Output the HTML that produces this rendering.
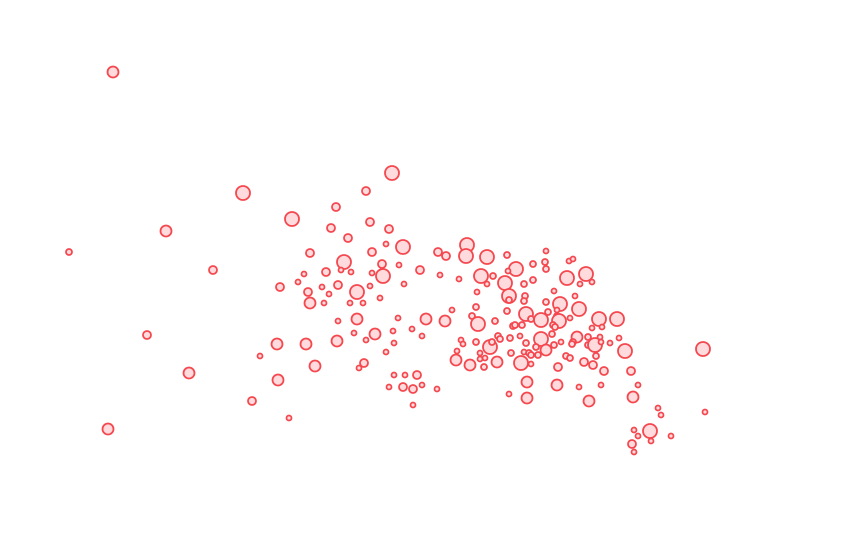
<!DOCTYPE html>
<html><head><meta charset="utf-8"><style>
html,body{margin:0;padding:0;background:#fff;}
svg{display:block;}
circle{fill:#ffdbdd;stroke:#f4484f;stroke-width:1.8;}
</style></head><body>
<svg width="855" height="550" viewBox="0 0 855 550" xmlns="http://www.w3.org/2000/svg">
<g>
<circle cx="113" cy="72" r="5.5"/><circle cx="69" cy="252" r="3"/><circle cx="166" cy="231" r="5.5"/><circle cx="213" cy="270" r="4"/><circle cx="147" cy="335" r="4"/><circle cx="189" cy="373" r="5.5"/><circle cx="108" cy="429" r="5.5"/>
<circle cx="392" cy="173" r="7"/><circle cx="366" cy="191" r="4"/><circle cx="243" cy="193" r="7"/><circle cx="336" cy="207" r="4"/><circle cx="292" cy="219" r="7"/><circle cx="370" cy="222" r="4"/><circle cx="331" cy="228" r="4"/><circle cx="389" cy="229" r="4"/><circle cx="348" cy="238" r="4"/><circle cx="386" cy="244" r="2.5"/><circle cx="403" cy="247" r="7"/><circle cx="310" cy="253" r="4"/><circle cx="372" cy="252" r="4"/><circle cx="438" cy="252" r="4"/><circle cx="446" cy="256" r="4"/><circle cx="467" cy="245" r="7"/><circle cx="466" cy="256" r="7"/><circle cx="344" cy="262" r="7"/><circle cx="382" cy="264" r="4"/><circle cx="383" cy="276" r="7"/><circle cx="399" cy="265" r="2.5"/><circle cx="420" cy="270" r="4"/><circle cx="326" cy="272" r="4"/><circle cx="341" cy="270" r="2.5"/><circle cx="351" cy="272" r="2.5"/><circle cx="372" cy="273" r="2.5"/><circle cx="304" cy="274" r="2.5"/><circle cx="440" cy="275" r="2.5"/><circle cx="459" cy="279" r="2.5"/><circle cx="298" cy="282" r="2.5"/><circle cx="280" cy="287" r="4"/><circle cx="322" cy="287" r="2.5"/><circle cx="338" cy="285" r="4"/><circle cx="357" cy="292" r="7"/><circle cx="370" cy="286" r="2.5"/><circle cx="404" cy="284" r="2.5"/><circle cx="308" cy="292" r="4"/><circle cx="329" cy="294" r="2.5"/><circle cx="310" cy="303" r="5.5"/><circle cx="324" cy="303" r="2.5"/><circle cx="350" cy="303" r="2.5"/><circle cx="363" cy="303" r="2.5"/><circle cx="380" cy="298" r="2.5"/><circle cx="452" cy="310" r="2.5"/><circle cx="357" cy="319" r="5.5"/><circle cx="398" cy="318" r="2.5"/><circle cx="426" cy="319" r="5.5"/><circle cx="445" cy="321" r="5.5"/><circle cx="338" cy="321" r="2.5"/><circle cx="354" cy="333" r="2.5"/><circle cx="375" cy="334" r="5.5"/><circle cx="393" cy="331" r="2.5"/><circle cx="412" cy="329" r="2.5"/><circle cx="422" cy="336" r="2.5"/><circle cx="366" cy="340" r="2.5"/><circle cx="394" cy="343" r="2.5"/><circle cx="277" cy="344" r="5.5"/><circle cx="306" cy="344" r="5.5"/><circle cx="337" cy="341" r="5.5"/><circle cx="260" cy="356" r="2.5"/><circle cx="386" cy="352" r="2.5"/><circle cx="364" cy="363" r="4"/><circle cx="359" cy="368" r="2.5"/><circle cx="315" cy="366" r="5.5"/><circle cx="278" cy="380" r="5.5"/><circle cx="394" cy="375" r="2.5"/><circle cx="405" cy="375" r="2.5"/><circle cx="417" cy="375" r="4"/><circle cx="389" cy="387" r="2.5"/><circle cx="403" cy="387" r="4"/><circle cx="413" cy="389" r="4"/><circle cx="422" cy="385" r="2.5"/><circle cx="437" cy="389" r="2.5"/><circle cx="413" cy="405" r="2.5"/><circle cx="252" cy="401" r="4"/><circle cx="289" cy="418" r="2.5"/>
<circle cx="487" cy="257" r="7"/><circle cx="507" cy="255" r="3"/><circle cx="546" cy="251" r="2.5"/><circle cx="516" cy="269" r="7"/><circle cx="533" cy="264" r="3"/><circle cx="545" cy="262" r="3"/><circle cx="546" cy="269" r="3"/><circle cx="569" cy="261" r="2.5"/><circle cx="573" cy="259" r="2.5"/><circle cx="567" cy="278" r="7"/><circle cx="586" cy="274" r="7"/><circle cx="580" cy="284" r="2.5"/><circle cx="592" cy="282" r="2.5"/><circle cx="481" cy="276" r="7"/><circle cx="493" cy="276" r="3"/><circle cx="487" cy="284" r="2.5"/><circle cx="508" cy="271" r="2.5"/><circle cx="505" cy="283" r="7"/><circle cx="524" cy="284" r="3"/><circle cx="533" cy="280" r="3"/><circle cx="477" cy="292" r="2.5"/><circle cx="509" cy="296" r="7"/><circle cx="509" cy="300" r="3"/><circle cx="525" cy="296" r="3"/><circle cx="524" cy="301" r="3"/><circle cx="554" cy="291" r="2.5"/><circle cx="575" cy="296" r="2.5"/><circle cx="546" cy="302" r="3"/><circle cx="560" cy="304" r="7"/><circle cx="579" cy="309" r="7"/><circle cx="476" cy="307" r="3"/><circle cx="507" cy="311" r="3"/><circle cx="526" cy="314" r="7"/><circle cx="548" cy="312" r="3"/><circle cx="557" cy="310" r="2.5"/><circle cx="472" cy="316" r="3"/><circle cx="478" cy="324" r="7"/><circle cx="495" cy="321" r="3"/><circle cx="531" cy="319" r="3"/><circle cx="541" cy="320" r="7"/><circle cx="557" cy="316" r="3"/><circle cx="556" cy="320" r="3"/><circle cx="559" cy="321" r="7"/><circle cx="570" cy="318" r="2.5"/><circle cx="599" cy="319" r="7"/><circle cx="617" cy="319" r="7"/><circle cx="513" cy="326" r="3"/><circle cx="515" cy="325" r="3"/><circle cx="522" cy="325" r="3"/><circle cx="553" cy="325" r="3"/><circle cx="555" cy="327" r="3"/><circle cx="592" cy="328" r="2.5"/><circle cx="602" cy="327" r="2.5"/><circle cx="461" cy="340" r="2.5"/><circle cx="463" cy="344" r="2.5"/><circle cx="476" cy="342" r="3"/><circle cx="490" cy="347" r="7"/><circle cx="492" cy="342" r="3"/><circle cx="498" cy="336" r="3"/><circle cx="500" cy="339" r="3"/><circle cx="510" cy="338" r="3"/><circle cx="520" cy="336" r="2.5"/><circle cx="526" cy="343" r="3"/><circle cx="541" cy="339" r="7"/><circle cx="552" cy="334" r="3"/><circle cx="554" cy="345" r="3"/><circle cx="561" cy="342" r="2.5"/><circle cx="536" cy="347" r="3"/><circle cx="546" cy="350" r="5.5"/><circle cx="577" cy="337" r="5.5"/><circle cx="573" cy="342" r="3"/><circle cx="572" cy="344" r="3"/><circle cx="588" cy="337" r="3"/><circle cx="588" cy="345" r="3"/><circle cx="595" cy="345" r="7"/><circle cx="600" cy="337" r="2.5"/><circle cx="601" cy="342" r="2.5"/><circle cx="610" cy="343" r="2.5"/><circle cx="619" cy="338" r="2.5"/><circle cx="625" cy="351" r="7"/><circle cx="457" cy="351" r="2.5"/><circle cx="480" cy="353" r="2.5"/><circle cx="485" cy="358" r="2.5"/><circle cx="480" cy="359" r="2.5"/><circle cx="456" cy="360" r="5.5"/><circle cx="470" cy="365" r="5.5"/><circle cx="484" cy="367" r="3"/><circle cx="497" cy="362" r="5.5"/><circle cx="511" cy="353" r="3"/><circle cx="521" cy="363" r="7"/><circle cx="524" cy="352" r="2.5"/><circle cx="529" cy="353" r="3"/><circle cx="531" cy="355" r="3"/><circle cx="538" cy="355" r="3"/><circle cx="531" cy="364" r="2.5"/><circle cx="566" cy="356" r="3"/><circle cx="570" cy="358" r="3"/><circle cx="584" cy="362" r="4"/><circle cx="596" cy="356" r="3"/><circle cx="593" cy="365" r="4"/><circle cx="558" cy="367" r="4"/><circle cx="604" cy="371" r="4"/><circle cx="631" cy="371" r="4"/><circle cx="638" cy="385" r="2.5"/><circle cx="527" cy="382" r="5.5"/><circle cx="557" cy="385" r="5.5"/><circle cx="579" cy="387" r="2.5"/><circle cx="601" cy="385" r="2.5"/><circle cx="509" cy="394" r="2.5"/><circle cx="527" cy="398" r="5.5"/><circle cx="589" cy="401" r="5.5"/><circle cx="633" cy="397" r="5.5"/><circle cx="658" cy="408" r="2.5"/><circle cx="661" cy="415" r="2.5"/><circle cx="703" cy="349" r="7"/><circle cx="705" cy="412" r="2.5"/><circle cx="650" cy="431" r="7"/><circle cx="634" cy="430" r="2.5"/><circle cx="638" cy="436" r="2.5"/><circle cx="651" cy="441" r="2.5"/><circle cx="671" cy="436" r="2.5"/><circle cx="632" cy="444" r="4"/><circle cx="634" cy="452" r="2.5"/>
</g>
</svg>
</body></html>
